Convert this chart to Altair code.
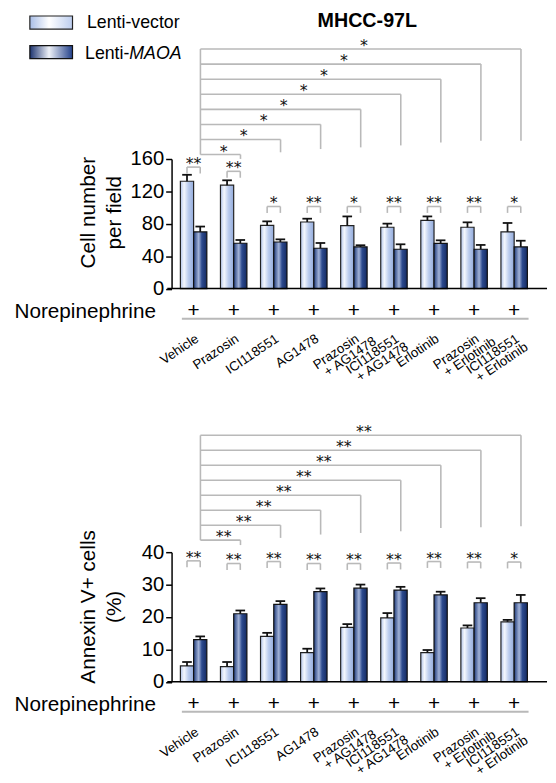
import math
import altair as alt
import pandas as pd

# ---------------- data ----------------
treatments = ["Vehicle", "Prazosin", "ICI118551", "AG1478", "Prazosin",
              "ICI118551", "Erlotinib", "Prazosin", "ICI118551"]
treatments_line2 = ["", "", "", "", "+ AG1478", "+ AG1478", "",
                    "+ Erlotinib", "+ Erlotinib"]
norepinephrine = ["+"] * 9

cell_vector = [132.5, 127.7, 78.0, 82.2, 77.8, 75.7, 84.3, 75.7, 70.0]
cell_vector_err = [8.0, 6.0, 5.0, 4.1, 11.3, 4.5, 4.8, 6.1, 11.0]
cell_maoa = [70.0, 56.0, 57.5, 49.8, 51.4, 48.6, 55.9, 48.6, 51.4]
cell_maoa_err = [6.6, 4.0, 3.3, 6.5, 2.1, 6.1, 3.7, 5.3, 7.7]
cell_pair_stars = ["**", "**", "*", "**", "*", "**", "**", "**", "*"]
cell_vs_vehicle_stars = ["*", "*", "*", "*", "*", "*", "*", "*"]

annexin_vector = [4.9, 4.7, 14.0, 9.0, 16.8, 19.7, 9.0, 16.6, 18.5]
annexin_vector_err = [1.2, 1.4, 1.1, 1.2, 1.0, 1.5, 0.8, 0.8, 0.6]
annexin_maoa = [13.0, 21.0, 23.9, 27.8, 28.9, 28.3, 26.8, 24.4, 24.4]
annexin_maoa_err = [1.0, 1.0, 1.0, 1.0, 1.1, 1.0, 1.0, 1.4, 2.4]
annexin_pair_stars = ["**", "**", "**", "**", "**", "**", "**", "**", "*"]
annexin_vs_vehicle_stars = ["**", "**", "**", "**", "**", "**", "**", "**"]

legend_labels = ["Lenti-vector", "Lenti-", "MAOA"]
chart_title = "MHCC-97L"

# ---------------- layout / style ----------------
FONT = "Liberation Sans"
STAR_FONT = "DejaVu Sans"
X_DOMAIN = [0.45, 9.82]
PX0, PXG = 358.9, 40.67      # page px of group 5, px per group
VIEW_W, VIEW_H = 381, 131.5
BAR_W = 0.33
HALF = BAR_W / 2
RIGHT_LEG = 0.17
CAP = 0.12
GRAY = "#b9b9b9"
LABEL_TILT = 34              # degrees, text rises to the right
LABEL_SIZE = 13.5
LINE2_ALONG = 4.5            # px shift of line-2 start along the text
LINE2_PERP = 12              # px line spacing

# approximate Arial advance widths (em) for label layout
CHAR_W = {"P": .667, "r": .333, "a": .556, "z": .5, "o": .556, "s": .5, "i": .222,
          "n": .556, "I": .278, "C": .722, "1": .556, "8": .556, "5": .556, "+": .584,
          " ": .278, "A": .667, "G": .778, "4": .556, "7": .556, "E": .667, "l": .222,
          "t": .278, "b": .556, "V": .667, "e": .556, "h": .556, "c": .5}


def text_w(s):
    return sum(CHAR_W.get(ch, .556) for ch in s) * LABEL_SIZE


def xd(px):
    return 5 + (px - PX0) / PXG


def grad(stops):
    return alt.LinearGradient(
        gradient="linear",
        stops=[alt.GradientStop(color=c, offset=o) for o, c in stops],
        x1=0, x2=1, y1=0, y2=0)


LIGHT_BAR = grad([(0, "#b3c5ea"), (0.28, "#f4f7fd"), (0.6, "#bccdee"), (1, "#93abdb")])
DARK_BAR = grad([(0, "#1e3b7c"), (0.38, "#a4b4d8"), (0.62, "#2d4b8f"), (1, "#142a62")])
LIGHT_LEG = grad([(0, "#a8bde6"), (0.45, "#ffffff"), (1, "#bccdee")])
DARK_LEG = grad([(0, "#1d3470"), (0.45, "#eef1f7"), (1, "#22408a")])


def panel(vec, vec_err, mao, mao_err, pair_stars, big_stars, ylab, ticks,
          big_base, big_step, leg_bottoms, pair_tops, ytitle_px, top_extra=False):
    ymax = ticks[-1]
    k = VIEW_H / ymax

    def yd(px):
        return px / k

    xs = alt.Scale(domain=X_DOMAIN, nice=False, zero=False)
    ys = alt.Scale(domain=[0, ymax], nice=False, zero=False)
    yaxis = alt.Axis(values=ticks, title=None, labelFontSize=20.5, labelFont=FONT,
                     labelColor="black", tickSize=6, tickWidth=1.5, tickColor="black",
                     domainColor="black", domainWidth=1.5, labelPadding=2, grid=False,
                     labelFlush=False, labelOverlap=False)

    def X(f):
        return alt.X(f, type="quantitative", scale=xs, axis=None)

    def Y(f):
        return alt.Y(f, type="quantitative", scale=ys, axis=yaxis)

    g = list(range(1, 10))
    bars = pd.DataFrame({
        "vx": [i - BAR_W for i in g], "vx2": g,
        "mx": g, "mx2": [i + BAR_W for i in g],
        "vc": [i - HALF for i in g], "mc": [i + HALF for i in g],
        "v": vec, "vt": [a + b for a, b in zip(vec, vec_err)],
        "m": mao, "mt": [a + b for a, b in zip(mao, mao_err)],
        "zero": [0] * 9,
    })

    base = alt.Chart(bars)
    light = base.mark_bar(fill=LIGHT_BAR, stroke="#222", strokeWidth=1.2).encode(
        x=X("vx"), x2=alt.X2("vx2"), y=Y("v"), y2=alt.Y2("zero"))
    dark = base.mark_bar(fill=DARK_BAR, stroke="#111", strokeWidth=1.2).encode(
        x=X("mx"), x2=alt.X2("mx2"), y=Y("m"), y2=alt.Y2("zero"))

    err_rows = []
    for i in range(9):
        for c, v, t in ((bars.vc[i], vec[i], bars.vt[i]), (bars.mc[i], mao[i], bars.mt[i])):
            err_rows.append({"x": c, "x2": c, "y": v, "y2": t})
            err_rows.append({"x": c - CAP, "x2": c + CAP, "y": t, "y2": t})
    errs = alt.Chart(pd.DataFrame(err_rows)).mark_rule(color="#111", strokeWidth=1.8).encode(
        x=X("x"), x2=alt.X2("x2"), y=Y("y"), y2=alt.Y2("y2"))

    # brackets
    seg = []
    stars = []
    lx = 1 + RIGHT_LEG
    levels = [big_base + big_step * j for j in range(8)]
    seg.append({"x": lx, "x2": lx, "y": yd(levels[-1]), "y2": yd(levels[0])})
    for j in range(8):
        rx = j + 2 + RIGHT_LEG
        seg.append({"x": lx, "x2": rx, "y": yd(levels[j]), "y2": yd(levels[j])})
        seg.append({"x": rx, "x2": rx, "y": yd(levels[j]), "y2": yd(leg_bottoms[j])})
        stars.append({"x": (lx + rx) / 2 + 0.08, "y": yd(levels[j]), "t": big_stars[j]})
    for i in g:
        a, b = i - HALF, i + HALF
        t = pair_tops[i - 1]
        seg.append({"x": a, "x2": b, "y": yd(t), "y2": yd(t)})
        seg.append({"x": a, "x2": a, "y": yd(t), "y2": yd(t - 6.5)})
        seg.append({"x": b, "x2": b, "y": yd(t), "y2": yd(t - 6.5)})
        stars.append({"x": i, "y": yd(t), "t": pair_stars[i - 1]})
    brackets = alt.Chart(pd.DataFrame(seg)).mark_rule(color=GRAY, strokeWidth=1.6).encode(
        x=X("x"), x2=alt.X2("x2"), y=Y("y"), y2=alt.Y2("y2"))
    star_txt = alt.Chart(pd.DataFrame(stars)).mark_text(
        font=STAR_FONT, fontSize=16, baseline="alphabetic", align="center", dy=2,
        color="#111").encode(x=X("x"), y=Y("y"), text="t:N")

    # x baseline
    baseline = alt.Chart(pd.DataFrame({"x": [xd(169.5)], "x2": [X_DOMAIN[1]], "y": [0]})).mark_rule(
        color="black", strokeWidth=1.5).encode(x=X("x"), x2=alt.X2("x2"), y=Y("y"))

    # Norepinephrine row
    ne = alt.Chart(pd.DataFrame({"x": [xd(158)], "y": [yd(-23.7)], "t": ["Norepinephrine"]})).mark_text(
        font=FONT, fontSize=21, align="right", baseline="middle", color="black").encode(
        x=X("x"), y=Y("y"), text="t:N")
    plus = alt.Chart(pd.DataFrame({"x": g, "y": [yd(-22.7)] * 9, "t": norepinephrine})).mark_text(
        font=FONT, fontSize=21, align="center", baseline="middle", color="black").encode(
        x=X("x"), y=Y("y"), text="t:N")
    gline = alt.Chart(pd.DataFrame({"x": [xd(184.3)], "x2": [xd(536.2)], "y": [yd(-30.5)]})).mark_rule(
        color=GRAY, strokeWidth=2).encode(x=X("x"), x2=alt.X2("x2"), y=Y("y"))

    # rotated treatment labels (line 1 right-aligned at anchor, line 2 offset below)
    cs, sn = math.cos(math.radians(LABEL_TILT)), math.sin(math.radians(LABEL_TILT))
    rows1, rows2 = [], []
    for i in g:
        x1, y1 = i + 6 / PXG, yd(-53)
        t1, t2 = treatments[i - 1], treatments_line2[i - 1]
        rows1.append({"x": x1, "y": y1, "t": t1})
        if t2:
            along = LINE2_ALONG + text_w(t2) - text_w(t1)
            ox = along * cs + LINE2_PERP * sn
            oy = -along * sn + LINE2_PERP * cs
            rows2.append({"x": x1 + ox / PXG, "y": y1 - oy / k, "t": t2})
    lab1 = alt.Chart(pd.DataFrame(rows1)).mark_text(
        font=FONT, fontSize=LABEL_SIZE, angle=360 - LABEL_TILT, align="right",
        baseline="alphabetic", color="black").encode(x=X("x"), y=Y("y"), text="t:N")
    lab2 = alt.Chart(pd.DataFrame(rows2)).mark_text(
        font=FONT, fontSize=LABEL_SIZE, angle=360 - LABEL_TILT, align="right",
        baseline="alphabetic", color="black").encode(x=X("x"), y=Y("y"), text="t:N")

    # y title (two lines)
    yt = alt.Chart(pd.DataFrame({"x": [xd(90), xd(116.5)], "y": [yd(ytitle_px)] * 2, "t": ylab})).mark_text(
        font=FONT, fontSize=21, angle=270, align="center", baseline="middle", color="black").encode(
        x=X("x"), y=Y("y"), text="t:N")

    layers = [light, dark, brackets, errs, star_txt, baseline, ne, plus, gline, lab1, lab2, yt]

    if top_extra:
        title = alt.Chart(pd.DataFrame({"x": [xd(372.5)], "y": [yd(265.7)], "t": [chart_title]})).mark_text(
            font=FONT, fontSize=20, fontWeight="bold", align="center", baseline="alphabetic",
            color="black").encode(x=X("x"), y=Y("y"), text="t:N")
        sw1 = alt.Chart(pd.DataFrame({"x": [xd(30)], "x2": [xd(73.3)], "y": [yd(276.6)], "y2": [yd(263.3)]})).mark_rect(
            fill=LIGHT_LEG, stroke="#222", strokeWidth=1.2).encode(
            x=X("x"), x2=alt.X2("x2"), y=Y("y"), y2=alt.Y2("y2"))
        sw2 = alt.Chart(pd.DataFrame({"x": [xd(30)], "x2": [xd(73.3)], "y": [yd(246.6)], "y2": [yd(233.3)]})).mark_rect(
            fill=DARK_LEG, stroke="#111", strokeWidth=1.2).encode(
            x=X("x"), x2=alt.X2("x2"), y=Y("y"), y2=alt.Y2("y2"))
        l1 = alt.Chart(pd.DataFrame({"x": [xd(88)], "y": [yd(269.3)], "t": [legend_labels[0]]})).mark_text(
            font=FONT, fontSize=18, align="left", baseline="middle", color="black").encode(
            x=X("x"), y=Y("y"), text="t:N")
        l2 = alt.Chart(pd.DataFrame({"x": [xd(131)], "y": [yd(238.3)], "t": [legend_labels[1]]})).mark_text(
            font=FONT, fontSize=18, align="right", baseline="middle", color="black").encode(
            x=X("x"), y=Y("y"), text="t:N")
        l3 = alt.Chart(pd.DataFrame({"x": [xd(131)], "y": [yd(238.3)], "t": [legend_labels[2]]})).mark_text(
            font=FONT, fontSize=18, fontStyle="italic", align="left", baseline="middle", color="black").encode(
            x=X("x"), y=Y("y"), text="t:N")
        layers += [title, sw1, sw2, l1, l2, l3]

    return alt.layer(*layers).properties(width=VIEW_W, height=VIEW_H)


top = panel(cell_vector, cell_vector_err, cell_maoa, cell_maoa_err,
            cell_pair_stars, cell_vs_vehicle_stars, ["Cell number", "per field"],
            [0, 40, 80, 120, 160], 136, 15.3,
            [131.6, 138.3, 141.6, 143.3, 145.3, 148.3, 150, 150],
            [123.3, 119, 83.3, 83.3, 83.3, 83.3, 83.3, 83.3, 83.3], 77, top_extra=True)

bottom = panel(annexin_vector, annexin_vector_err, annexin_maoa, annexin_maoa_err,
               annexin_pair_stars, annexin_vs_vehicle_stars, ["Annexin V+ cells", "(%)"],
               [0, 10, 20, 30, 40], 143.7, 15.2,
               [138.7, 146, 149.4, 151, 152.7, 156, 156.7, 157.7],
               [122.7, 120, 122, 120, 120, 120.5, 122, 121.5, 121.5], 76)

chart = alt.vconcat(top, bottom, spacing=40).properties(
    padding={"left": 6, "top": -3.5, "right": 0, "bottom": 0}
).configure(font=FONT).configure_view(stroke=None)

chart.save("out.html", embed_options={"renderer": "svg", "actions": False})
